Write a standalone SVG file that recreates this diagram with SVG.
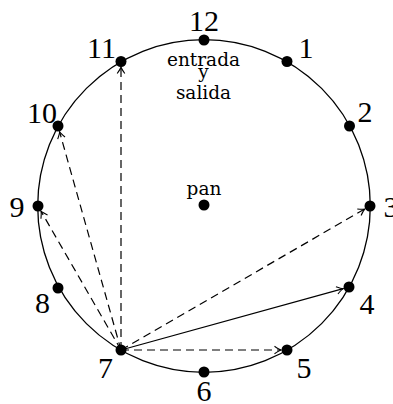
<svg xmlns="http://www.w3.org/2000/svg" width="393" height="404" viewBox="0 0 393 404">
<defs>
<style>
.num{font-family:"Liberation Serif",serif;font-size:30px;fill:#000;text-anchor:middle}
.lbl{font-family:"DejaVu Serif",serif;font-size:18.5px;fill:#000;text-anchor:middle}
.dot{fill:#000}
.edge{stroke:#000;stroke-width:1.2;fill:none;marker-end:url(#arr)}
.dash{stroke-dasharray:8 5}
</style>
<marker id="arr" markerUnits="userSpaceOnUse" viewBox="-8 -5 10 10" markerWidth="10" markerHeight="10" refX="0" refY="0" orient="auto">
<path d="M-6.5,-3.8 Q-2,-0.6 0,0 Q-2,0.6 -6.5,3.8" fill="none" stroke="#000" stroke-width="1.1"/>
</marker>
</defs>
<rect width="393" height="404" fill="#fff"/>
<circle cx="204" cy="206" r="166.3" fill="none" stroke="#000" stroke-width="1.3"/>
<g id="connectors">
<line class="edge dash" x1="121" y1="350" x2="121" y2="67"/>
<line class="edge dash" x1="121" y1="350" x2="59.6" y2="131.8"/>
<line class="edge dash" x1="121" y1="350" x2="41" y2="211.2"/>
<line class="edge dash" x1="121" y1="350" x2="364.8" y2="209"/>
<line class="edge" x1="121" y1="350" x2="343.2" y2="288.6"/>
<line class="edge dash" x1="121" y1="350" x2="281" y2="350"/>
</g>
<g id="n12"><circle class="dot" cx="204" cy="40" r="5.5"/><text class="num" x="204" y="31">12</text></g>
<g id="n1"><circle class="dot" cx="287" cy="61.5" r="5.5"/><text class="num" x="306" y="58">1</text></g>
<g id="n2"><circle class="dot" cx="349.5" cy="126" r="5.5"/><text class="num" x="365" y="122">2</text></g>
<g id="n3"><circle class="dot" cx="370" cy="206" r="5.5"/><text class="num" x="391" y="217">3</text></g>
<g id="n4"><circle class="dot" cx="349" cy="287" r="5.5"/><text class="num" x="367" y="314">4</text></g>
<g id="n5"><circle class="dot" cx="287" cy="350" r="5.5"/><text class="num" x="304" y="378">5</text></g>
<g id="n6"><circle class="dot" cx="204" cy="372" r="5.5"/><text class="num" x="204" y="401">6</text></g>
<g id="n7"><circle class="dot" cx="121" cy="350" r="5.5"/><text class="num" x="105.5" y="378">7</text></g>
<g id="n8"><circle class="dot" cx="58" cy="288" r="5.5"/><text class="num" x="42.5" y="313">8</text></g>
<g id="n9"><circle class="dot" cx="38" cy="206" r="5.5"/><text class="num" x="17" y="217">9</text></g>
<g id="n10"><circle class="dot" cx="58" cy="126" r="5.5"/><text class="num" x="42" y="122.5">10</text></g>
<g id="n11"><circle class="dot" cx="121" cy="61.5" r="5.5"/><text class="num" x="101.5" y="58">11</text></g>
<g id="entrada"><text class="lbl" x="203.5" y="65.5">entrada</text><text class="lbl" x="203.5" y="78">y</text><text class="lbl" x="203.5" y="99">salida</text></g>
<g id="pan"><circle class="dot" cx="204" cy="205" r="5.5"/><text class="lbl" x="204" y="195">pan</text></g>
</svg>
